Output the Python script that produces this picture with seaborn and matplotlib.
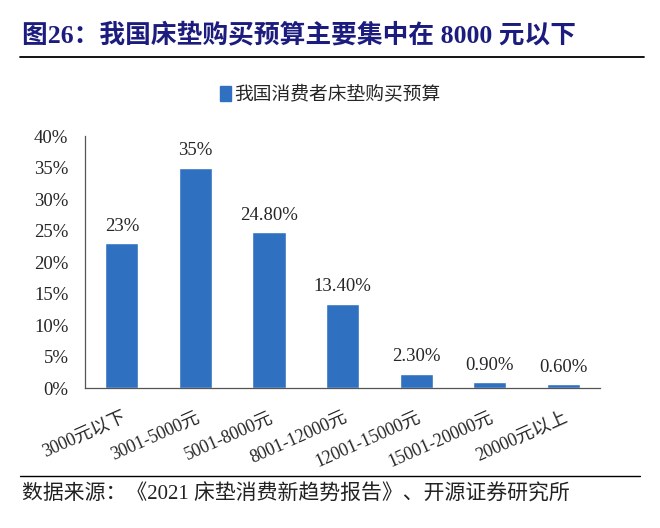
import matplotlib
matplotlib.use("Agg")
import matplotlib.pyplot as plt
import matplotlib.patches as mpatches
import seaborn as sns
import numpy as np

title = "图26：我国床垫购买预算主要集中在 8000 元以下"
series_name = "我国消费者床垫购买预算"
source = "数据来源：《2021 床垫消费新趋势报告》、开源证券研究所"

categories = ["3000元以下", "3001-5000元", "5001-8000元", "8001-12000元",
              "12001-15000元", "15001-20000元", "20000元以上"]
values = [23, 35, 24.8, 13.4, 2.3, 0.9, 0.6]
value_labels = ["23%", "35%", "24.80%", "13.40%", "2.30%", "0.90%", "0.60%"]
ytick_vals = [0, 5, 10, 15, 20, 25, 30, 35, 40]

bar_color = "#3070C0"
title_color = "#1C1C7E"

sns.set_style("white")
plt.rcParams['font.family'] = ['Liberation Serif', 'Noto Sans CJK SC', 'DejaVu Sans']

fig = plt.figure(figsize=(6.6, 5.28), dpi=100)
ax = fig.add_axes([0.129, 0.265, 0.78, 0.477])

sns.barplot(x=categories, y=values, color=bar_color, width=0.45, ax=ax,
            saturation=1)

ax.set_xlim(-0.5, len(categories) - 0.5)
ax.set_ylim(0, 40)
ax.set_yticks(ytick_vals)
ax.set_yticklabels([f"{v}%" for v in ytick_vals], fontsize=13.5)
ax.set_xticks(range(len(categories)))
ax.set_xticklabels(categories, rotation=24, ha='right', rotation_mode='anchor',
                   fontsize=13)
ax.set_xticks(np.arange(-0.5, len(categories)), minor=True)
ax.tick_params(axis='x', which='major', length=0, pad=15)
ax.tick_params(axis='x', which='minor', direction='in', length=4, color='#555555')
ax.tick_params(axis='y', direction='in', length=4, color='#555555', pad=12)
ax.set_xlabel("")
ax.set_ylabel("")

for s in ['top', 'right']:
    ax.spines[s].set_visible(False)
for s in ['left', 'bottom']:
    ax.spines[s].set_color('#555555')
    ax.spines[s].set_linewidth(0.9)

for i, (v, lab) in enumerate(zip(values, value_labels)):
    ax.annotate(lab, (i, v), xytext=(0, 6), textcoords='offset points',
                ha='center', va='bottom', fontsize=13.5)

handle = mpatches.Patch(color=bar_color, label=series_name)
fig.legend(handles=[handle], loc='center', bbox_to_anchor=(0.5, 0.82),
           frameon=False, fontsize=13.5, handlelength=0.6, handleheight=0.8,
           handletextpad=0.15)

fig.text(0.033, 0.934, title, fontsize=18.5, fontweight='bold', color=title_color,
         ha='left', va='center')
fig.add_artist(plt.Line2D([0.03, 0.975], [0.892, 0.892], color='black', lw=1.3,
                          transform=fig.transFigure))
fig.add_artist(plt.Line2D([0.03, 0.97], [0.0985, 0.0985], color='black', lw=1.0,
                          transform=fig.transFigure))
fig.text(0.033, 0.0625, source, fontsize=15, color='#222222', ha='left', va='center')

fig.savefig("out.png", dpi=100)
